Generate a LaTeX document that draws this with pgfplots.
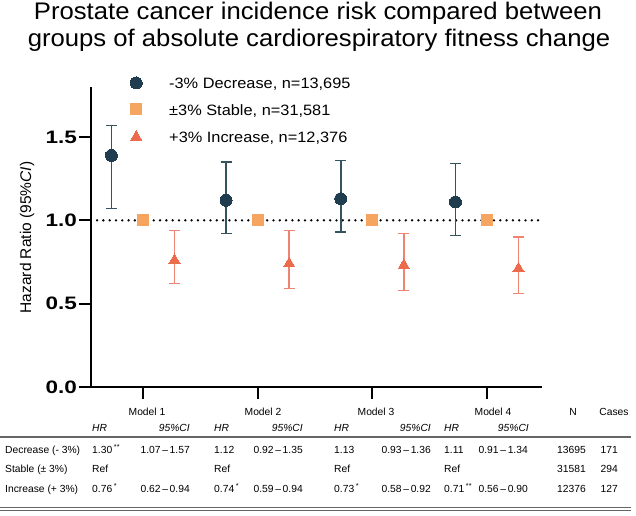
\documentclass[border=0pt]{standalone}
\usepackage{pgfplots}
\usepackage{pgfplotstable}
\pgfplotsset{compat=1.18}
\usepackage{fontspec}
\setmainfont{Liberation Sans}
\usepackage{graphicx}

\definecolor{cdec}{HTML}{1F3D4E}
\definecolor{cdecbar}{HTML}{35525F}
\definecolor{cstab}{HTML}{F5A55F}
\definecolor{cinc}{HTML}{EB6B4C}
\definecolor{cincbar}{HTML}{EF8472}

\newcommand\fs[2]{\fontsize{#1bp}{#2bp}\selectfont}

\pgfplotstableread{
x y lo hi
0.725 1.39 1.07 1.57
1.725 1.12 0.92 1.35
2.725 1.13 0.93 1.36
3.725 1.11 0.91 1.34
}\decdata
\pgfplotstableread{
x y
1 1.0
2 1.0
3 1.0
4 1.0
}\stabdata
\pgfplotstableread{
x y lo hi
1.275 0.76 0.62 0.94
2.275 0.74 0.59 0.94
3.275 0.73 0.58 0.92
4.275 0.71 0.56 0.90
}\incdata

\begin{document}
\begin{tikzpicture}[x=1bp,y=1bp]
\useasboundingbox (0bp,0bp) rectangle (636bp,516bp);
\begin{axis}[
  at={(91bp,129bp)}, anchor=south west,
  width=451bp, height=300bp, scale only axis,
  xmin=0.547, xmax=4.48, ymin=0, ymax=1.8,
  axis lines=left,
  axis line style={-, line width=2.2bp, black},
  xtick={1,2,3,4}, xticklabels={},
  ytick={0,0.5,1,1.5},
  yticklabels={\scalebox{1.25}[1]{0.0},\scalebox{1.25}[1]{0.5},\scalebox{1.25}[1]{1.0},\scalebox{1.25}[1]{1.5}},
  yticklabel style={font=\fs{18}{18}\bfseries, inner sep=2bp},
  tick align=outside, major tick length=12bp,
  tick style={line width=2.2bp, black},
  clip=false,
  legend style={draw=none, fill=none, inner sep=0pt,
    at={(axis description cs:0.0865,1.034)}, anchor=north west,
    row sep=12bp, column sep=0pt,
    font=\fs{15}{15},
    nodes={inner sep=0pt, text height=11bp, text depth=3bp, anchor=base west}},
  legend image code/.code={%
    \draw[#1] plot coordinates {(0bp,6bp)};
    \path[draw=none, fill=none] (-6bp,0bp) rectangle (33bp,0.1bp);},
]
\addplot[black, line width=2.6bp, dash pattern=on 0bp off 6.3bp, line cap=round, forget plot]
  coordinates {(0.60,1) (4.48,1)};

\addplot[only marks, mark=*, mark size=6bp, color=cdec, mark options={fill=cdec, draw=cdec, line width=0pt},
  error bars/.cd, y dir=both, y explicit,
  error bar style={line width=1.5bp, cdecbar},
  error mark options={rotate=90, mark size=5.5bp, line width=1.5bp, cdecbar}]
  table[x=x, y=y, y error plus expr=\thisrow{hi}-\thisrow{y}, y error minus expr=\thisrow{y}-\thisrow{lo}] {\decdata};
\addlegendentry{\scalebox{1.09}[1]{-3\% Decrease, n=13,695}}

\addplot[only marks, mark=square*, mark size=5.5bp, color=cstab, mark options={fill=cstab, draw=cstab, line width=0pt}]
  table[x=x, y=y] {\stabdata};
\addlegendentry{\scalebox{1.09}[1]{±3\% Stable, n=31,581}}

\addplot[only marks, mark=triangle*, mark size=6.5bp, color=cinc, mark options={fill=cinc, draw=cinc, line width=0pt},
  error bars/.cd, y dir=both, y explicit,
  error bar style={line width=1.5bp, cincbar},
  error mark options={rotate=90, mark size=5.5bp, line width=1.5bp, cincbar}]
  table[x=x, y=y, y error plus expr=\thisrow{hi}-\thisrow{y}, y error minus expr=\thisrow{y}-\thisrow{lo}] {\incdata};
\addlegendentry{\scalebox{1.09}[1]{+3\% Increase, n=12,376}}
\end{axis}

% title
\node[anchor=base] at (318bp,496bp) {\fs{24}{24}\scalebox{1.07}[1]{Prostate cancer incidence risk compared between}};
\node[anchor=base] at (319bp,469.3bp) {\fs{24}{24}\scalebox{1.07}[1]{groups of absolute cardiorespiratory fitness change}};

% y label
\node[rotate=90] at (27bp,278.5bp) {\fs{15.5}{15.5}Hazard Ratio (95\%\textit{CI})};

% table
\begin{scope}[every node/.style={font=\fs{10.3}{10.3}, inner sep=0pt}]
\node[anchor=base] at (147bp,100.3bp) {Model 1};
\node[anchor=base] at (263bp,100.3bp) {Model 2};
\node[anchor=base] at (376bp,100.3bp) {Model 3};
\node[anchor=base] at (493bp,100.3bp) {Model 4};
\node[anchor=base] at (573bp,100.3bp) {N};
\node[anchor=base] at (614bp,100.3bp) {Cases};

\node[anchor=base west] at (92bp,84.3bp) {\itshape HR};
\node[anchor=base east] at (190bp,84.3bp) {\itshape 95\%CI};
\node[anchor=base west] at (214bp,84.3bp) {\itshape HR};
\node[anchor=base east] at (303bp,84.3bp) {\itshape 95\%CI};
\node[anchor=base west] at (334bp,84.3bp) {\itshape HR};
\node[anchor=base east] at (431bp,84.3bp) {\itshape 95\%CI};
\node[anchor=base west] at (444bp,84.3bp) {\itshape HR};
\node[anchor=base east] at (529bp,84.3bp) {\itshape 95\%CI};

% row 1
\node[anchor=base west] at (5bp,62.7bp) {Decrease (- 3\%)};
\node[anchor=base west] at (92bp,62.7bp) {1.30\,\textsuperscript{**}};
\node[anchor=base east] at (190bp,62.7bp) {1.07\,–\,1.57};
\node[anchor=base west] at (214bp,62.7bp) {1.12};
\node[anchor=base east] at (303bp,62.7bp) {0.92\,–\,1.35};
\node[anchor=base west] at (334bp,62.7bp) {1.13};
\node[anchor=base east] at (431bp,62.7bp) {0.93\,–\,1.36};
\node[anchor=base west] at (444bp,62.7bp) {1.11};
\node[anchor=base east] at (528bp,62.7bp) {0.91\,–\,1.34};
\node[anchor=base east] at (586bp,62.7bp) {13695};
\node[anchor=base east] at (618bp,62.7bp) {171};

% row 2
\node[anchor=base west] at (5bp,43.7bp) {Stable (± 3\%)};
\node[anchor=base west] at (92bp,43.7bp) {Ref};
\node[anchor=base west] at (214bp,43.7bp) {Ref};
\node[anchor=base west] at (334bp,43.7bp) {Ref};
\node[anchor=base west] at (444bp,43.7bp) {Ref};
\node[anchor=base east] at (586bp,43.7bp) {31581};
\node[anchor=base east] at (618bp,43.7bp) {294};

% row 3
\node[anchor=base west] at (5bp,23.7bp) {Increase (+ 3\%)};
\node[anchor=base west] at (92bp,23.7bp) {0.76\,\textsuperscript{*}};
\node[anchor=base east] at (190bp,23.7bp) {0.62\,–\,0.94};
\node[anchor=base west] at (214bp,23.7bp) {0.74\,\textsuperscript{*}};
\node[anchor=base east] at (303bp,23.7bp) {0.59\,–\,0.94};
\node[anchor=base west] at (334bp,23.7bp) {0.73\,\textsuperscript{*}};
\node[anchor=base east] at (431bp,23.7bp) {0.58\,–\,0.92};
\node[anchor=base west] at (444bp,23.7bp) {0.71\,\textsuperscript{**}};
\node[anchor=base east] at (528bp,23.7bp) {0.56\,–\,0.90};
\node[anchor=base east] at (586bp,23.7bp) {12376};
\node[anchor=base east] at (618bp,23.7bp) {127};
\end{scope}

\draw[line width=1.3bp, black!60] (0bp,79bp) -- (631bp,79bp);
\draw[line width=0.9bp, black!60] (0bp,8.5bp) -- (631bp,8.5bp);
\draw[line width=0.9bp, black!60] (0bp,6bp) -- (631bp,6bp);
\end{tikzpicture}
\end{document}
